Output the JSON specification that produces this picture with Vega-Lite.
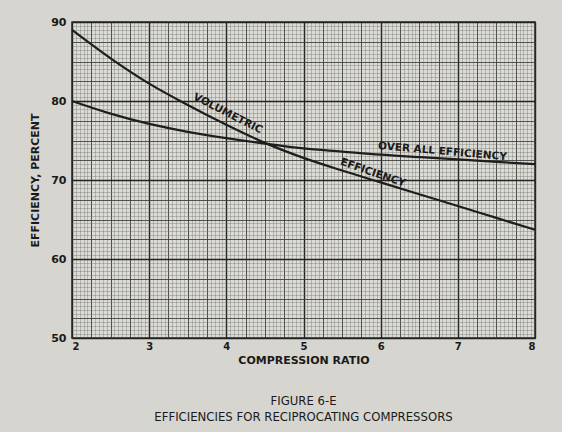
{
  "$schema": "https://vega.github.io/schema/vega-lite/v6.json",
  "width": 463,
  "height": 316,
  "autosize": "none",
  "padding": {"left": 72, "top": 22, "right": 27, "bottom": 94},
  "background": "#d6d5cf",
  "config": {
    "view": {"stroke": "#2a2a2a", "strokeWidth": 1.5, "fill": "#dcdbd5"},
    "font": "DejaVu Sans"
  },
  "title": {
    "text": "FIGURE 6-E",
    "subtitle": "EFFICIENCIES FOR RECIPROCATING COMPRESSORS",
    "orient": "bottom",
    "offset": 30,
    "fontSize": 13,
    "fontWeight": "normal",
    "color": "#1a1a1a",
    "subtitleFontSize": 13,
    "subtitleColor": "#1a1a1a",
    "subtitlePadding": 3,
    "font": "DejaVu Sans Condensed",
    "subtitleFont": "DejaVu Sans Condensed"
  },
  "datasets": {
    "curves": [
      {"series": "overall", "ratio": 2.0, "eff": 80.0},
      {"series": "overall", "ratio": 2.5, "eff": 78.4},
      {"series": "overall", "ratio": 3.0, "eff": 77.1},
      {"series": "overall", "ratio": 3.5, "eff": 76.1},
      {"series": "overall", "ratio": 4.0, "eff": 75.3},
      {"series": "overall", "ratio": 4.5, "eff": 74.6},
      {"series": "overall", "ratio": 5.0, "eff": 74.0},
      {"series": "overall", "ratio": 5.5, "eff": 73.6},
      {"series": "overall", "ratio": 6.0, "eff": 73.2},
      {"series": "overall", "ratio": 6.5, "eff": 72.9},
      {"series": "overall", "ratio": 7.0, "eff": 72.6},
      {"series": "overall", "ratio": 7.5, "eff": 72.3},
      {"series": "overall", "ratio": 8.0, "eff": 72.0},
      {"series": "volumetric", "ratio": 2.0, "eff": 89.0},
      {"series": "volumetric", "ratio": 2.5, "eff": 85.4},
      {"series": "volumetric", "ratio": 3.0, "eff": 82.2},
      {"series": "volumetric", "ratio": 3.5, "eff": 79.5},
      {"series": "volumetric", "ratio": 4.0, "eff": 77.0},
      {"series": "volumetric", "ratio": 4.5, "eff": 74.7},
      {"series": "volumetric", "ratio": 5.0, "eff": 72.8},
      {"series": "volumetric", "ratio": 5.5, "eff": 71.2},
      {"series": "volumetric", "ratio": 6.0, "eff": 69.7},
      {"series": "volumetric", "ratio": 6.5, "eff": 68.2},
      {"series": "volumetric", "ratio": 7.0, "eff": 66.7},
      {"series": "volumetric", "ratio": 7.5, "eff": 65.2},
      {"series": "volumetric", "ratio": 8.0, "eff": 63.7}
    ],
    "labels": [
      {"label": "VOLUMETRIC", "ratio": 4.02, "eff": 78.4, "angle": 27},
      {"label": "EFFICIENCY", "ratio": 5.9, "eff": 70.9, "angle": 19},
      {"label": "OVER ALL EFFICIENCY", "ratio": 6.8, "eff": 73.6, "angle": 5}
    ]
  },
  "resolve": {"axis": {"x": "independent", "y": "independent"}},
  "layer": [
    {
      "data": {"name": "curves"},
      "mark": {"type": "point", "opacity": 0},
      "encoding": {
        "x": {
          "field": "ratio", "type": "quantitative",
          "scale": {"domain": [2, 8], "nice": false, "zero": false},
          "axis": {"orient": "top", "tickCount": 120, "labels": false, "ticks": false, "domain": false, "title": null,
                   "grid": true, "gridColor": "#6a6a66", "gridWidth": 0.6, "gridOpacity": 0.6}
        },
        "y": {
          "field": "eff", "type": "quantitative",
          "scale": {"domain": [50, 90], "nice": false, "zero": false},
          "axis": {"orient": "right", "tickCount": 80, "labels": false, "ticks": false, "domain": false, "title": null,
                   "grid": true, "gridColor": "#6a6a66", "gridWidth": 0.6, "gridOpacity": 0.6}
        }
      }
    },
    {
      "data": {"name": "curves"},
      "mark": {"type": "line", "color": "#1e1e1e", "strokeWidth": 2.2, "interpolate": "monotone"},
      "encoding": {
        "x": {
          "field": "ratio", "type": "quantitative",
          "axis": {"orient": "top", "values": [2, 2.25, 2.5, 2.75, 3, 3.25, 3.5, 3.75, 4, 4.25, 4.5, 4.75, 5, 5.25, 5.5, 5.75, 6, 6.25, 6.5, 6.75, 7, 7.25, 7.5, 7.75, 8],
                   "labels": false, "ticks": false, "domain": false, "title": null,
                   "grid": true, "gridColor": "#3a3a38", "gridWidth": 1, "gridOpacity": 0.8}
        },
        "y": {
          "field": "eff", "type": "quantitative",
          "axis": {"orient": "right", "values": [50, 52.5, 55, 57.5, 60, 62.5, 65, 67.5, 70, 72.5, 75, 77.5, 80, 82.5, 85, 87.5, 90],
                   "labels": false, "ticks": false, "domain": false, "title": null,
                   "grid": true, "gridColor": "#3a3a38", "gridWidth": 1, "gridOpacity": 0.8}
        },
        "detail": {"field": "series"}
      }
    },
    {
      "data": {"name": "labels"},
      "mark": {"type": "text", "font": "DejaVu Sans", "fontWeight": "bold", "fontSize": 10.5, "color": "#1a1a1a", "baseline": "middle", "align": "center"},
      "encoding": {
        "x": {
          "field": "ratio", "type": "quantitative",
          "axis": {"orient": "bottom", "values": [2, 3, 4, 5, 6, 7, 8], "grid": true, "gridColor": "#222", "gridWidth": 1.4,
                   "ticks": false, "domain": false, "labelFontSize": 10, "labelFontWeight": "bold", "labelColor": "#1a1a1a",
                   "labelPadding": 3, "title": "COMPRESSION RATIO", "titleFontSize": 11, "titleFontWeight": "bold",
                   "titleColor": "#1a1a1a", "titlePadding": 3}
        },
        "y": {
          "field": "eff", "type": "quantitative",
          "axis": {"orient": "left", "values": [50, 60, 70, 80, 90], "grid": true, "gridColor": "#222", "gridWidth": 1.4,
                   "ticks": false, "domain": false, "labelFontSize": 11, "labelFontWeight": "bold", "labelColor": "#1a1a1a",
                   "labelPadding": 6, "title": "EFFICIENCY, PERCENT", "titleFontSize": 11, "titleFontWeight": "bold",
                   "titleColor": "#1a1a1a", "titlePadding": 10}
        },
        "text": {"field": "label"},
        "angle": {"field": "angle", "type": "quantitative", "scale": null}
      }
    }
  ]
}
